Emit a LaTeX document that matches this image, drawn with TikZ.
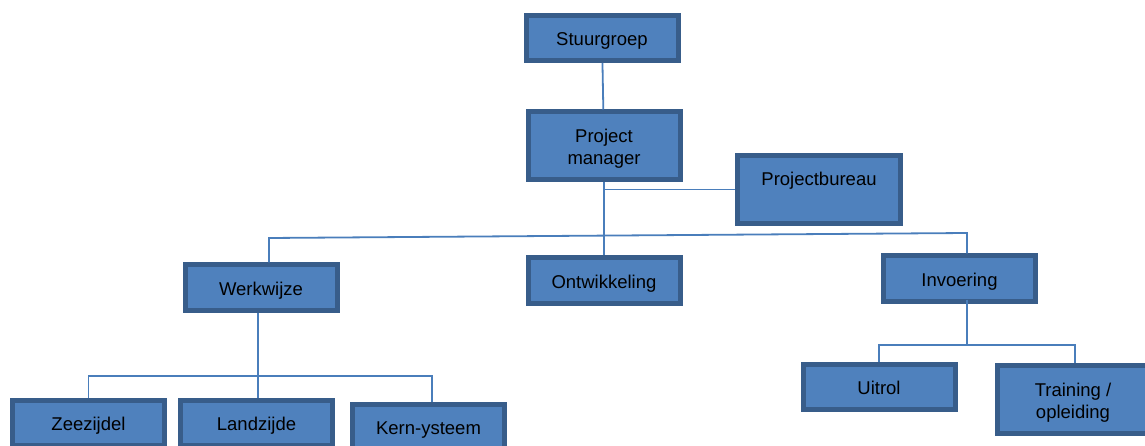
\documentclass[tikz,border=0pt]{standalone}
\usepackage{fontspec}
\setmainfont{Liberation Sans}
\definecolor{boxfill}{HTML}{4F81BD}
\definecolor{boxline}{HTML}{385D8A}
\definecolor{linkblue}{HTML}{4A7EBB}
\begin{document}
\begin{tikzpicture}[
    x=1pt, y=-1pt,
    box/.style={rectangle, draw=boxline, fill=boxfill, line width=5pt, minimum width=152pt, minimum height=45pt, font=\fontsize{18.5}{22}\selectfont, align=center, inner sep=0pt, text height=19pt, text depth=4pt},
    tall/.style={minimum height=68pt, text height=41pt},
    link/.style={line width=1.8pt, draw=linkblue},
]
\useasboundingbox (0,0) rectangle (1145,446);
\node[box] (stuur) at (602,38) {Stuurgroep};
\node[box, tall] (pm) at (604,146) {Project\\manager};
\node[box, tall, minimum width=163pt] (bureau) at (819,189.5) {Projectbureau\\ \mbox{}};
\node[box] (werk) at (261,287.5) {Werkwijze};
\node[box] (ontw) at (604,280.5) {Ontwikkeling};
\node[box] (invo) at (959.5,278.5) {Invoering};
\node[box] (uitrol) at (879,386.5) {Uitrol};
\node[box, tall] (train) at (1073,399.5) {Training /\\opleiding};
\node[box] (zee) at (88.5,423) {Zeezijdel};
\node[box] (land) at (256.5,423) {Landzijde};
\node[box] (kern) at (428.5,427) {Kern-ysteem};
% verbindingen
\coordinate (hl) at (269,238);
\coordinate (hr) at (967,233);
\coordinate (wsplit) at (258,376);
\coordinate (wright) at (432,376);
\coordinate (isplit) at (967,345);
\coordinate (iright) at (1075,345);
\draw[link] (stuur) -- (pm);
\draw[link] (pm.south) -- (ontw.north);
\draw[link] (pm.south |- bureau.west) -- (bureau.west);
\draw[link] (werk.north -| hl) -- (hl) -- (hr) -- (invo.north -| hr);
\draw[link] (werk.south -| wsplit) -- (land.north -| wsplit);
\draw[link] (zee.north) |- (wright) -- (wright |- kern.north);
\draw[link] ([yshift=4pt]invo.south -| isplit) -- (isplit);
\draw[link] (uitrol.north) |- (iright) -- (iright |- train.north);
\end{tikzpicture}
\end{document}
